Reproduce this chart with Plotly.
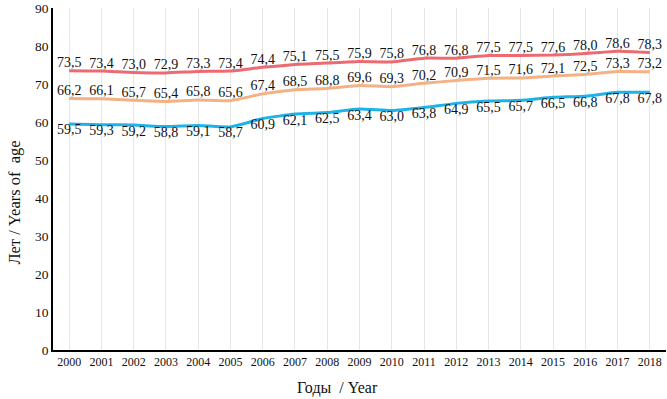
import plotly.graph_objects as go

years = [str(y) for y in range(2000, 2019)]
red_vals = [73.5, 73.4, 73.0, 72.9, 73.3, 73.4, 74.4, 75.1, 75.5, 75.9, 75.8, 76.8, 76.8, 77.5, 77.5, 77.6, 78.0, 78.6, 78.3]
orange_vals = [66.2, 66.1, 65.7, 65.4, 65.8, 65.6, 67.4, 68.5, 68.8, 69.6, 69.3, 70.2, 70.9, 71.5, 71.6, 72.1, 72.5, 73.3, 73.2]
blue_vals = [59.5, 59.3, 59.2, 58.8, 59.1, 58.7, 60.9, 62.1, 62.5, 63.4, 63.0, 63.8, 64.9, 65.5, 65.7, 66.5, 66.8, 67.8, 67.8]
x_title = "Годы\u00a0\u00a0/ Year"
y_title = "Лет / Years of\u00a0\u00a0age"

def fmt(v):
    return f"{v:.1f}".replace(".", ",")

font_family = "Liberation Serif, Times New Roman, serif"
fig = go.Figure()
series = [
    (red_vals, "#EE6A72", "top center"),
    (orange_vals, "#F4B183", "top center"),
    (blue_vals, "#1EB2EA", "bottom center"),
]
for vals, color, pos in series:
    fig.add_trace(go.Scatter(
        x=years, y=vals, mode="lines+text",
        text=[fmt(v) for v in vals], textposition=pos,
        textfont=dict(family=font_family, size=14, color="#111111"),
        line=dict(color=color, width=3, shape="spline", smoothing=0.4),
        showlegend=False, cliponaxis=False, hoverinfo="skip",
    ))

fig.update_layout(
    width=667, height=399,
    margin=dict(l=53, r=1, t=8, b=49, autoexpand=False),
    paper_bgcolor="white", plot_bgcolor="white",
    font=dict(family=font_family, color="#111111"),
)
fig.update_xaxes(
    type="category", range=[-0.5, 18.5],
    showgrid=True, gridcolor="#E6E6E6", gridwidth=1,
    showline=True, linecolor="black", linewidth=2,
    ticks="", tickfont=dict(size=12),
)
fig.update_yaxes(
    range=[0, 90], dtick=10, showgrid=False, zeroline=False,
    showline=True, linecolor="black", linewidth=1.5,
    ticks="", tickfont=dict(size=13.5),
)
fig.add_annotation(
    text=x_title, xref="paper", yref="paper", x=0, y=0,
    xanchor="center", yanchor="middle", xshift=284, yshift=-38,
    showarrow=False, font=dict(size=16),
)
fig.add_annotation(
    text=y_title, xref="paper", yref="paper", x=0, y=0.431,
    xanchor="center", yanchor="middle", xshift=-38, textangle=-90,
    showarrow=False, font=dict(size=16.5),
)
fig.write_html(
    "out.html",
    config={"displayModeBar": False},
    post_script="document.body.style.margin='0';document.body.style.overflow='hidden';",
)
